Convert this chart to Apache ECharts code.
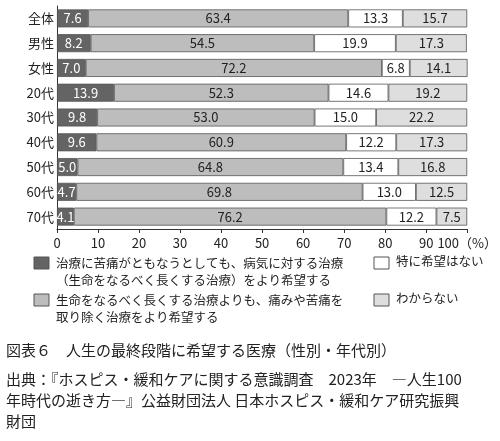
<!DOCTYPE html>
<html><head><meta charset="utf-8">
<script src="https://cdn.jsdelivr.net/npm/echarts@6/dist/echarts.min.js"></script>
<style>html,body{margin:0;padding:0;background:#fff}#c{width:500px;height:441px}</style>
</head><body><div id="c"></div>
<script>
const categories = ['全体','男性','女性','20代','30代','40代','50代','60代','70代'];
const seriesNames = ['治療に苦痛がともなうとしても、病気に対する治療（生命をなるべく長くする治療）をより希望する','生命をなるべく長くする治療よりも、痛みや苦痛を取り除く治療をより希望する','特に希望はない','わからない'];
const sPrefer = [7.6,8.2,7.0,13.9,9.8,9.6,5.0,4.7,4.1];
const sRelief = [63.4,54.5,72.2,52.3,53.0,60.9,64.8,69.8,76.2];
const sNone = [13.3,19.9,6.8,14.6,15.0,12.2,13.4,13.0,12.2];
const sUnknown = [15.7,17.3,14.1,19.2,22.2,17.3,16.8,12.5,7.5];
const xTicks = ['0','10','20','30','40','50','60','70','80','90','100（%）'];
const colors = ['#646464','#bdbdbd','#ffffff','#dedede'];
const F = '"Noto Sans CJK JP", sans-serif';
const chart = echarts.init(document.getElementById('c'));
const mk = (name, data, i) => ({
  name, type:'bar', stack:'a', data, barWidth:18,
  itemStyle:{color:colors[i], borderColor:'#555', borderWidth:0.8},
  label:{show:true, position:'inside', color:i===0?'#fff':'#222', fontSize:13, fontFamily:F,
    formatter:p=>p.value.toFixed(1)}
});
chart.setOption({
  animation:false,
  grid:{left:57, right:31, top:6, bottom:212},
  xAxis:{type:'value', min:0, max:100, interval:10,
    axisLine:{show:true, lineStyle:{color:'#333'}}, axisTick:{show:true, length:4, lineStyle:{color:'#333'}},
    splitLine:{show:false},
    axisLabel:{color:'#222', fontSize:13, fontFamily:F, formatter:v=>xTicks[v/10]}},
  yAxis:{type:'category', data:categories, inverse:true,
    axisLine:{show:true, lineStyle:{color:'#333'}}, axisTick:{show:false},
    axisLabel:{color:'#222', fontSize:13, fontFamily:F, margin:3}},
  series:[mk(seriesNames[0],sPrefer,0),mk(seriesNames[1],sRelief,1),mk(seriesNames[2],sNone,2),mk(seriesNames[3],sUnknown,3)],
  graphic:[
    {type:'rect', shape:{x:34,y:257,width:15,height:12}, style:{fill:colors[0],stroke:'#555'}},
    {type:'text', x:56, y:255, style:{text:'治療に苦痛がともなうとしても、病気に対する治療\n（生命をなるべく長くする治療）をより希望する', font:'12.5px '+F, fill:'#222', lineHeight:17}},
    {type:'rect', shape:{x:34,y:294,width:15,height:12}, style:{fill:colors[1],stroke:'#555'}},
    {type:'text', x:56, y:292, style:{text:'生命をなるべく長くする治療よりも、痛みや苦痛を\n取り除く治療をより希望する', font:'12.5px '+F, fill:'#222', lineHeight:17}},
    {type:'rect', shape:{x:374,y:257,width:15,height:12}, style:{fill:colors[2],stroke:'#555'}},
    {type:'text', x:396, y:255, style:{text:'特に希望はない', font:'12.5px '+F, fill:'#222'}},
    {type:'rect', shape:{x:374,y:294,width:15,height:12}, style:{fill:colors[3],stroke:'#555'}},
    {type:'text', x:396, y:292, style:{text:'わからない', font:'12.5px '+F, fill:'#222'}},
    {type:'text', x:6, y:343, style:{text:'図表６　人生の最終段階に希望する医療（性別・年代別）', font:'15px '+F, fill:'#222'}},
    {type:'text', x:6, y:369, style:{text:'出典：『ホスピス・緩和ケアに関する意識調査　2023年　―人生100\n年時代の逝き方―』公益財団法人 日本ホスピス・緩和ケア研究振興\n財団', font:'15px '+F, fill:'#222', lineHeight:21}}
  ]
});
</script></body></html>
